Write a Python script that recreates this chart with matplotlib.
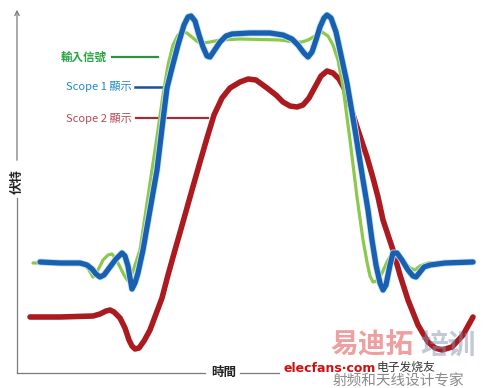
import matplotlib
matplotlib.use("Agg")
import matplotlib.pyplot as plt
import matplotlib.patheffects as pe

plt.rcParams['font.family'] = ['Noto Sans CJK TC', 'DejaVu Sans']

# ---- data (time, voltage in arbitrary units) ----
input_t = [16, 43, 68, 72, 76, 80, 86, 91, 95, 99, 103, 107, 111, 114, 117, 123, 129, 135, 141, 146,
           151, 156, 161, 165, 170, 176, 181, 186, 193, 203, 223, 263, 278, 285, 291, 298, 305, 311, 316, 321,
           326, 333, 340, 346, 350, 353, 356, 360, 365, 371, 376, 381, 387, 393, 398, 403, 411, 428, 456]
input_v = [110, 110, 108, 103, 96, 101, 113, 118, 119, 114, 106, 98, 92, 96, 105, 123, 163, 203, 243, 278,
           308, 328, 338, 341, 340, 335, 331, 330, 331, 333, 334, 333, 331, 331, 333, 337, 341, 337, 328, 313,
           286, 233, 176, 133, 111, 97, 91, 92, 100, 113, 120, 118, 111, 105, 103, 107, 110, 111, 111]

scope1_t = [23, 43, 63, 70, 75, 79, 83, 87, 93, 99, 105, 108, 111, 113, 115, 118, 121, 126, 133, 140,
            146, 150, 155, 161, 167, 171, 174, 178, 182, 186, 190, 193, 197, 203, 209, 215, 233, 253, 266, 275,
            281, 287, 291, 295, 299, 303, 307, 310, 314, 319, 324, 330, 338, 346, 351, 355, 359, 363, 366, 369,
            373, 376, 380, 385, 391, 396, 399, 403, 407, 413, 428, 456]
scope1_v = [111, 110, 110, 108, 104, 99, 96, 98, 106, 114, 120, 117, 107, 95, 84, 90, 100, 123, 163, 203,
            253, 285, 305, 328, 348, 356, 357, 352, 338, 326, 317, 316, 322, 331, 337, 339, 340, 340, 338, 334,
            328, 320, 316, 321, 333, 346, 355, 358, 355, 341, 318, 290, 243, 193, 163, 133, 108, 90, 83, 88,
            108, 120, 120, 113, 103, 97, 96, 101, 106, 108, 110, 111]

scope2_t = [13, 43, 76, 83, 89, 93, 97, 103, 108, 112, 115, 118, 122, 127, 133, 139, 145, 151, 158, 166,
            175, 183, 190, 197, 205, 213, 223, 231, 239, 250, 259, 266, 273, 280, 286, 292, 298, 304, 310, 316,
            322, 327, 333, 340, 350, 356, 361, 366, 376, 383, 391, 401, 411, 418, 425, 435, 446, 456]
scope2_v = [56, 56, 57, 59, 62, 63, 61, 55, 45, 33, 27, 24, 25, 32, 43, 59, 75, 98, 123, 151,
            183, 211, 235, 258, 275, 285, 291, 294, 293, 285, 278, 271, 267, 266, 268, 275, 286, 297, 302, 300,
            294, 285, 268, 246, 216, 195, 176, 153, 123, 98, 73, 48, 31, 25, 23, 26, 38, 56]

labels = ['輸入信號', 'Scope 1 顯示', 'Scope 2 顯示']
xlabel = '時間'
ylabel = '伏特'

# ---- figure ----
fig = plt.figure(figsize=(4.86, 3.88), dpi=100)
ax = fig.add_axes([0, 0, 1, 1])
ax.set_xlim(-17, 469)
ax.set_ylim(-15, 373)
ax.axis('off')

axis_col = '#7a7a7a'
# y axis (with gap for label) and arrow
ax.plot([0, 0], [0, 175], color=axis_col, lw=0.9)
ax.annotate('', xy=(0, 366), xytext=(0, 210),
            arrowprops=dict(arrowstyle='->', color=axis_col, lw=0.9, mutation_scale=8))
ax.text(0, 191, ylabel, rotation=90, ha='center', va='center', fontsize=9,
        fontweight='bold', color='#222222')
# x axis (with gap for label)
ax.plot([0, 188], [0, 0], color=axis_col, lw=0.9)
ax.plot([223, 262], [0, 0], color=axis_col, lw=0.9)
ax.text(207, 1, xlabel, ha='center', va='center', fontsize=9, fontweight='bold', color='#222222')

green = '#8cc84b'
blue = '#1a5fb0'
red = '#aa1a1e'

ax.plot(input_t, input_v, color=green, lw=2.3, solid_capstyle='round', solid_joinstyle='round', zorder=3)
ax.plot(scope1_t, scope1_v, color=blue, lw=3.8, solid_capstyle='round', solid_joinstyle='round', zorder=4,
        path_effects=[pe.Stroke(linewidth=5.0, foreground='#bfe6f7'), pe.Normal()])
ax.plot(scope2_t, scope2_v, color=red, lw=4.0, solid_capstyle='round', solid_joinstyle='round', zorder=2)

# labels with leader lines
ax.text(90, 316, labels[0], ha='right', va='center', fontsize=8.3, color='#2aa444', fontweight='bold')
ax.plot([95, 141], [316, 316], color='#2e8f45', lw=1.6)
ax.text(115, 286, labels[1], ha='right', va='center', fontsize=8, color='#2187c7')
ax.plot([118, 146], [286, 286], color='#1b4f9a', lw=1.8)
ax.text(115, 255, labels[2], ha='right', va='center', fontsize=8, color='#b34a55')
ax.plot([119, 191], [255, 255], color='#9c2f38', lw=1.6)

# watermark
cjk = ['Noto Sans CJK SC', 'DejaVu Sans']
ax.text(313, 27, '易迪拓', ha='left', va='center', fontsize=20, fontweight='bold',
        color='#e05050', alpha=0.55, family=cjk, zorder=5)
ax.text(403, 27, '培训', ha='left', va='center', fontsize=20, fontweight='bold',
        color='#8495b5', alpha=0.5, family=cjk, zorder=5)
ax.text(266, 5, 'elecfans·com', ha='left', va='center', fontsize=9, fontweight='bold',
        color='#d01010', family=['DejaVu Sans'], zorder=6)
ax.text(360, 6, '电子发烧友', ha='left', va='center', fontsize=8.5, style='italic',
        color='#333333', family=cjk, zorder=6)
ax.text(316, -9, '射频和天线设计专家', ha='left', va='center', fontsize=10.5,
        color='#8a8a8a', family=cjk, zorder=6)

fig.savefig('out.png', dpi=100)
